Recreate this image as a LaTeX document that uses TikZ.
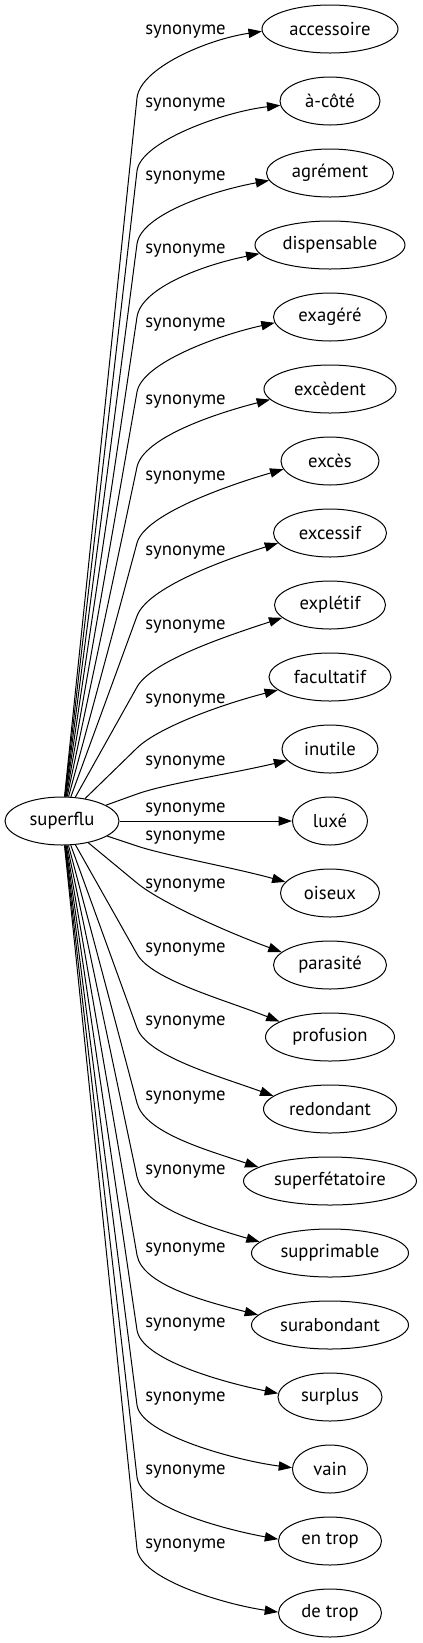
\documentclass[tikz,border=0pt]{standalone}
\usepackage{fontspec}
\setmainfont{PT Sans}
\usepackage{tikz}
\usetikzlibrary{arrows.meta,shapes,calc}

\begin{document}
\begin{tikzpicture}[x=0.75pt,y=0.75pt,yscale=-1,xscale=1,
  word/.style={draw, ellipse, line width=0.75pt, inner sep=0pt, minimum height=36pt, font=\fontsize{14pt}{16pt}\selectfont},
  rel/.style={inner sep=0.75pt, font=\fontsize{14pt}{16pt}\selectfont},
  syn/.style={line width=0.75pt, -{Triangle[length=10pt,width=7pt]}}]
\useasboundingbox (0,0) rectangle (422,1643);

% Text Node
\node [word, minimum width=85.5pt] (superflu) at (62,821) {superflu};
% Text Node
\node [word, minimum width=102pt] (accessoire) at (330,29) {accessoire};
\node [word, minimum width=75pt] (acote) at (330,101) {à-côté};
\node [word, minimum width=95.25pt] (agrement) at (330,173) {agrément};
\node [word, minimum width=112.5pt] (dispensable) at (330,245) {dispensable};
\node [word, minimum width=84.75pt] (exagere) at (330,317) {exagéré};
\node [word, minimum width=99pt] (excedent) at (330,389) {excèdent};
\node [word, minimum width=73.5pt] (exces) at (330,461) {excès};
\node [word, minimum width=84.75pt] (excessif) at (330,533) {excessif};
\node [word, minimum width=83.25pt] (expletif) at (330,605) {explétif};
\node [word, minimum width=91.5pt] (facultatif) at (330,677) {facultatif};
\node [word, minimum width=72pt] (inutile) at (330,749) {inutile};
\node [word, minimum width=56.25pt] (luxe) at (330,821) {luxé};
\node [word, minimum width=74.25pt] (oiseux) at (330,893) {oiseux};
\node [word, minimum width=84.75pt] (parasite) at (330,965) {parasité};
\node [word, minimum width=96.75pt] (profusion) at (330,1037) {profusion};
\node [word, minimum width=99.75pt] (redondant) at (330,1109) {redondant};
\node [word, minimum width=129.75pt] (superfetatoire) at (330,1181) {superfétatoire};
\node [word, minimum width=117.75pt] (supprimable) at (330,1253) {supprimable};
\node [word, minimum width=117.75pt] (surabondant) at (330,1325) {surabondant};
\node [word, minimum width=78pt] (surplus) at (330,1397) {surplus};
\node [word, minimum width=56.25pt] (vain) at (330,1469) {vain};
\node [word, minimum width=77.25pt] (entrop) at (330,1541) {en trop};
\node [word, minimum width=77.25pt] (detrop) at (330,1613) {de trop};

% Text Node
\node [rel] (l-accessoire) at (185.5,32) {synonyme};
\node [rel] (l-acote) at (185.5,105) {synonyme};
\node [rel] (l-agrement) at (185.5,178) {synonyme};
\node [rel] (l-dispensable) at (185.5,251) {synonyme};
\node [rel] (l-exagere) at (185.5,325) {synonyme};
\node [rel] (l-excedent) at (185.5,402) {synonyme};
\node [rel] (l-exces) at (185.5,478) {synonyme};
\node [rel] (l-excessif) at (185.5,553) {synonyme};
\node [rel] (l-expletif) at (185.5,627) {synonyme};
\node [rel] (l-facultatif) at (185.5,701) {synonyme};
\node [rel] (l-inutile) at (185.5,763) {synonyme};
\node [rel] (l-luxe) at (185.5,810) {synonyme};
\node [rel] (l-oiseux) at (185.5,838) {synonyme};
\node [rel] (l-parasite) at (185.5,886) {synonyme};
\node [rel] (l-profusion) at (185.5,950) {synonyme};
\node [rel] (l-redondant) at (185.5,1023) {synonyme};
\node [rel] (l-superfetatoire) at (185.5,1098) {synonyme};
\node [rel] (l-supprimable) at (185.5,1172) {synonyme};
\node [rel] (l-surabondant) at (185.5,1250) {synonyme};
\node [rel] (l-surplus) at (185.5,1325) {synonyme};
\node [rel] (l-vain) at (185.5,1399) {synonyme};
\node [rel] (l-entrop) at (185.5,1472) {synonyme};
\node [rel] (l-detrop) at (185.5,1546) {synonyme};

%bend points
\coordinate (b-accessoire) at (137,98);
\coordinate (b-acote) at (137,171);
\coordinate (b-agrement) at (137,244);
\coordinate (b-dispensable) at (137,317);
\coordinate (b-exagere) at (137,392);
\coordinate (b-excedent) at (137,467);
\coordinate (b-exces) at (137,543);
\coordinate (b-excessif) at (137,616);
\coordinate (b-expletif) at (137,687);
\coordinate (b-facultatif) at (137,748);
\coordinate (b-inutile) at (137,794);
\coordinate (b-oiseux) at (137,846);
\coordinate (b-parasite) at (137,883);
\coordinate (b-profusion) at (137,954);
\coordinate (b-redondant) at (137,1028);
\coordinate (b-superfetatoire) at (137,1103);
\coordinate (b-supprimable) at (137,1177);
\coordinate (b-surabondant) at (137,1255);
\coordinate (b-surplus) at (137,1330);
\coordinate (b-vain) at (137,1405);
\coordinate (b-entrop) at (137,1477);
\coordinate (b-detrop) at (137,1549);

%Curve Lines
\draw [syn] (superflu) -- (b-accessoire) .. controls ($(b-accessoire)!-22.5pt!(superflu)$) and ($(accessoire.182)+(-55,8)$) .. (accessoire.182);
\draw [syn] (superflu) -- (b-acote) .. controls ($(b-acote)!-22.5pt!(superflu)$) and ($(acote.185)+(-55,6)$) .. (acote.185);
\draw [syn] (superflu) -- (b-agrement) .. controls ($(b-agrement)!-22.5pt!(superflu)$) and ($(agrement.187)+(-55,10)$) .. (agrement.187);
\draw [syn] (superflu) -- (b-dispensable) .. controls ($(b-dispensable)!-22.5pt!(superflu)$) and ($(dispensable.187)+(-55,11)$) .. (dispensable.187);
\draw [syn] (superflu) -- (b-exagere) .. controls ($(b-exagere)!-22.5pt!(superflu)$) and ($(exagere.186)+(-55,12)$) .. (exagere.186);
\draw [syn] (superflu) -- (b-excedent) .. controls ($(b-excedent)!-22.5pt!(superflu)$) and ($(excedent.190)+(-55,14)$) .. (excedent.190);
\draw [syn] (superflu) -- (b-exces) .. controls ($(b-exces)!-22.5pt!(superflu)$) and ($(exces.190)+(-55,16)$) .. (exces.190);
\draw [syn] (superflu) -- (b-excessif) .. controls ($(b-excessif)!-22.5pt!(superflu)$) and ($(excessif.191)+(-55,17)$) .. (excessif.191);
\draw [syn] (superflu) -- (b-expletif) .. controls ($(b-expletif)!-22.5pt!(superflu)$) and ($(expletif.195)+(-55,18)$) .. (expletif.195);
\draw [syn] (superflu) -- (b-facultatif) .. controls ($(b-facultatif)!-22.5pt!(superflu)$) and ($(facultatif.194)+(-55,14)$) .. (facultatif.194);
\draw [syn] (superflu) -- (b-inutile) .. controls ($(b-inutile)!-22.5pt!(superflu)$) and ($(inutile.195)+(-55,13)$) .. (inutile.195);
%Straight Lines
\draw [syn] (superflu) -- (luxe);
%Curve Lines
\draw [syn] (superflu) -- (b-oiseux) .. controls ($(b-oiseux)!-22.5pt!(superflu)$) and ($(oiseux.166)+(-55,-15)$) .. (oiseux.166);
\draw [syn] (superflu) -- (b-parasite) .. controls ($(b-parasite)!-22.5pt!(superflu)$) and ($(parasite.165)+(-55,-20)$) .. (parasite.165);
\draw [syn] (superflu) -- (b-profusion) .. controls ($(b-profusion)!-22.5pt!(superflu)$) and ($(profusion.163)+(-55,-22)$) .. (profusion.163);
\draw [syn] (superflu) -- (b-redondant) .. controls ($(b-redondant)!-22.5pt!(superflu)$) and ($(redondant.167)+(-55,-20)$) .. (redondant.167);
\draw [syn] (superflu) -- (b-superfetatoire) .. controls ($(b-superfetatoire)!-22.5pt!(superflu)$) and ($(superfetatoire.169)+(-55,-18)$) .. (superfetatoire.169);
\draw [syn] (superflu) -- (b-supprimable) .. controls ($(b-supprimable)!-22.5pt!(superflu)$) and ($(supprimable.171)+(-55,-16)$) .. (supprimable.171);
\draw [syn] (superflu) -- (b-surabondant) .. controls ($(b-surabondant)!-22.5pt!(superflu)$) and ($(surabondant.172)+(-55,-14)$) .. (surabondant.172);
\draw [syn] (superflu) -- (b-surplus) .. controls ($(b-surplus)!-22.5pt!(superflu)$) and ($(surplus.176)+(-55,-11)$) .. (surplus.176);
\draw [syn] (superflu) -- (b-vain) .. controls ($(b-vain)!-22.5pt!(superflu)$) and ($(vain.178)+(-55,-7)$) .. (vain.178);
\draw [syn] (superflu) -- (b-entrop) .. controls ($(b-entrop)!-22.5pt!(superflu)$) and ($(entrop.178)+(-55,-10)$) .. (entrop.178);
\draw [syn] (superflu) -- (b-detrop) .. controls ($(b-detrop)!-22.5pt!(superflu)$) and ($(detrop.179)+(-55,-8)$) .. (detrop.179);

\end{tikzpicture}
\end{document}
